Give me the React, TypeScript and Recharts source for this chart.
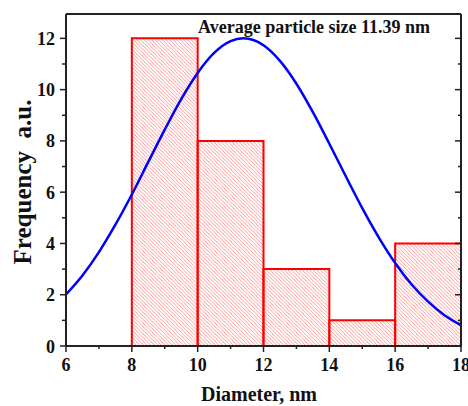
import React from 'react';
import { ComposedChart, XAxis, YAxis, Line, ReferenceArea, Customized } from 'recharts';

// Histogram bins (Diameter, nm) and counts
const binStarts = [8, 10, 12, 14, 16];
const binEnds = [10, 12, 14, 16, 18];
const frequencies = [12, 8, 3, 1, 4];

// Fitted normal curve
const fitX = [6, 6.5, 7, 7.5, 8, 8.5, 9, 9.5, 10, 10.5, 11, 11.39, 12, 12.5, 13, 13.5, 14, 14.5, 15, 15.5, 16, 16.5, 17, 17.5, 18];
const fitY = [2.01, 2.75, 3.66, 4.73, 5.91, 7.18, 8.44, 9.63, 10.65, 11.43, 11.89, 12.0, 11.73, 11.12, 10.23, 9.12, 7.89, 6.62, 5.38, 4.24, 3.24, 2.4, 1.73, 1.2, 0.81];

const xTicks = [6, 7, 8, 9, 10, 11, 12, 13, 14, 15, 16, 17, 18];
const yTicks = [0, 1, 2, 3, 4, 5, 6, 7, 8, 9, 10, 11, 12];

const annotation = 'Average particle size 11.39 nm';
const xTitle = 'Diameter, nm';
const yTitle = 'Frequency  a.u.';

const fitData = fitX.map((x, i) => ({ x, y: fitY[i] }));

const FONT = '"Liberation Serif", "Times New Roman", serif';
const AXIS = '#222';

const BottomTick = (props: any) => {
  const { x, y, payload } = props;
  const major = payload.value % 2 === 0;
  return (
    <g>
      <line x1={x} x2={x} y1={y} y2={y + (major ? 6 : 3)} stroke={AXIS} strokeWidth={1.5} />
      {major && (
        <text x={x} y={y + 25} textAnchor="middle" fontFamily={FONT} fontWeight="bold" fontSize={18} fill="#111">
          {payload.value}
        </text>
      )}
    </g>
  );
};

const LeftTick = (props: any) => {
  const { x, y, payload } = props;
  const major = payload.value % 2 === 0;
  return (
    <g>
      <line x1={x - (major ? 6 : 4)} x2={x} y1={y} y2={y} stroke={AXIS} strokeWidth={1.5} />
      {major && (
        <text x={x - 11} y={y + 6.5} textAnchor="end" fontFamily={FONT} fontWeight="bold" fontSize={18} fill="#111">
          {payload.value}
        </text>
      )}
    </g>
  );
};

const RightTick = (props: any) => {
  const { x, y, payload } = props;
  const major = payload.value % 2 === 0;
  return <line x1={x - (major ? 6 : 3)} x2={x} y1={y} y2={y} stroke={AXIS} strokeWidth={1.5} />;
};

const Texts = () => (
  <g>
    <text x={198} y={33} fontFamily={FONT} fontWeight="bold" fontSize={18} fill="#111" style={{ whiteSpace: 'pre' }}>
      {annotation}
    </text>
    <text x={259} y={401} textAnchor="middle" fontFamily={FONT} fontWeight="bold" fontSize={20} fill="#111">
      {xTitle}
    </text>
    <text
      x={31}
      y={182}
      textAnchor="middle"
      transform="rotate(-90 31 182)"
      fontFamily={FONT}
      fontWeight="bold"
      fontSize={25}
      fill="#111"
      style={{ whiteSpace: 'pre' }}
    >
      {yTitle}
    </text>
  </g>
);

export default function App() {
  return (
    <div style={{ position: 'absolute', left: 0, top: 0, background: '#fff' }}>
      <ComposedChart
        width={468}
        height={406}
        data={fitData}
        margin={{ top: 13, right: 6, bottom: 59, left: 65 }}
      >
        <defs>
          <pattern id="hatch" patternUnits="userSpaceOnUse" width={3.6} height={3.6}>
            <path d="M-1,-1 L4.6,4.6 M-1,2.6 L1,4.6 M2.6,-1 L4.6,1" stroke="#ff8c8c" strokeWidth={0.9} />
          </pattern>
        </defs>
        <XAxis
          dataKey="x"
          type="number"
          domain={[6, 18]}
          ticks={xTicks}
          interval={0}
          height={1}
          tickSize={0}
          tickMargin={0}
          tickLine={false}
          tick={<BottomTick />}
          axisLine={{ stroke: AXIS, strokeWidth: 2 }}
          allowDataOverflow
        />
        <XAxis
          xAxisId="top"
          orientation="top"
          type="number"
          domain={[6, 18]}
          height={1}
          tick={false}
          tickLine={false}
          axisLine={{ stroke: AXIS, strokeWidth: 2 }}
        />
        <YAxis
          type="number"
          domain={[0, 12.95]}
          ticks={yTicks}
          interval={0}
          width={1}
          tickSize={0}
          tickMargin={0}
          tickLine={false}
          tick={<LeftTick />}
          axisLine={{ stroke: AXIS, strokeWidth: 2 }}
          allowDataOverflow
        />
        <YAxis
          yAxisId="right"
          orientation="right"
          type="number"
          domain={[0, 12.95]}
          ticks={yTicks}
          interval={0}
          width={1}
          tickSize={0}
          tickMargin={0}
          tickLine={false}
          tick={<RightTick />}
          axisLine={{ stroke: AXIS, strokeWidth: 2 }}
          allowDataOverflow
        />
        {frequencies.map((f, i) => (
          <ReferenceArea
            key={i}
            x1={binStarts[i]}
            x2={binEnds[i]}
            y1={0}
            y2={f}
            fill="url(#hatch)"
            fillOpacity={1}
            stroke="#ff0000"
            strokeWidth={2}
            ifOverflow="visible"
          />
        ))}
        <Line
          dataKey="y"
          type="monotone"
          stroke="#0000ff"
          strokeWidth={2.5}
          dot={false}
          activeDot={false}
          isAnimationActive={false}
        />
        <Customized component={Texts} />
      </ComposedChart>
    </div>
  );
}
